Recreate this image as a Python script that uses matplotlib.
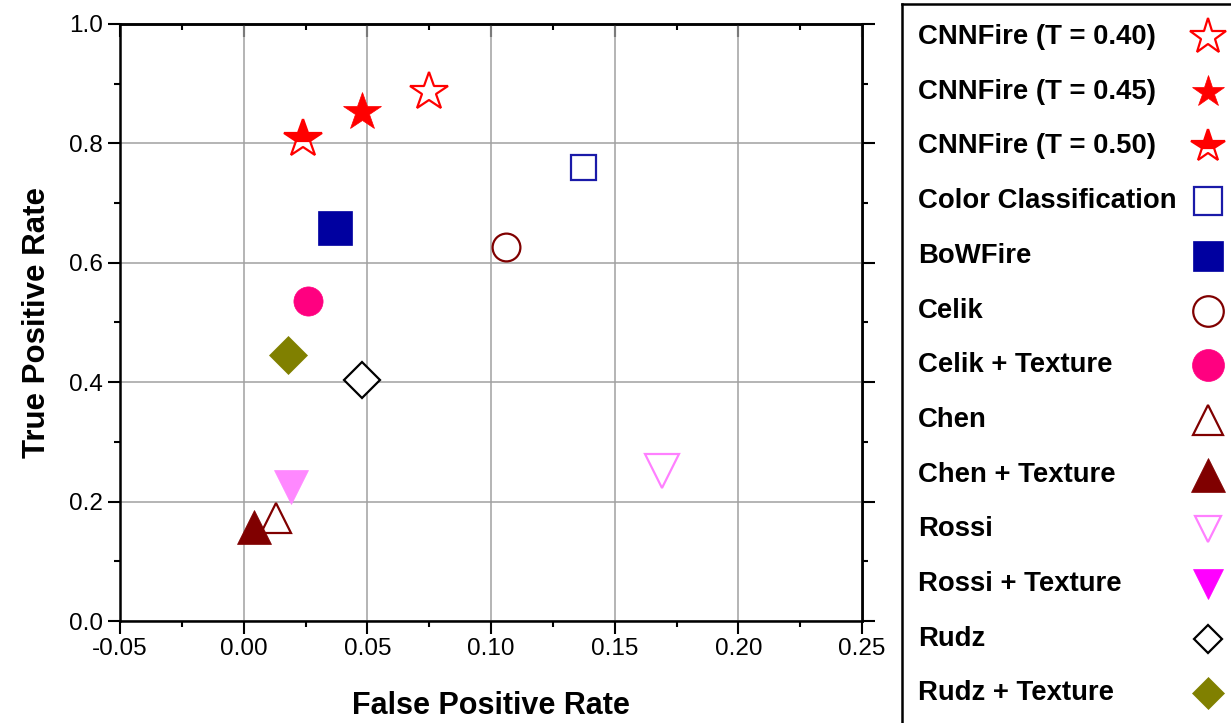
import numpy as np
import matplotlib.pyplot as plt
from matplotlib.ticker import MultipleLocator

plt.rcParams['font.family'] = ['Liberation Sans', 'DejaVu Sans']

# data
methods = ['CNNFire (T = 0.40)', 'CNNFire (T = 0.45)', 'CNNFire (T = 0.50)',
           'Color Classification', 'BoWFire', 'Celik', 'Celik + Texture',
           'Chen', 'Chen + Texture', 'Rossi', 'Rossi + Texture',
           'Rudz', 'Rudz + Texture']
fpr = [0.075, 0.048, 0.024, 0.137, 0.037, 0.106, 0.026,
       0.013, 0.004, 0.169, 0.019, 0.048, 0.018]
tpr = [0.886, 0.852, 0.807, 0.760, 0.658, 0.627, 0.536,
       0.172, 0.157, 0.251, 0.224, 0.404, 0.445]

# marker styles: (marker, color, fillstyle, size in plot, size in legend)
styles = [
    ('*', '#ff0000', 'none', 29, 27),
    ('*', '#ff0000', 'full', 29, 24),
    ('*', '#ff0000', 'top', 29, 25),
    ('s', '#1a1aa8', 'none', 18, 20),
    ('s', '#0000a0', 'full', 25, 21.5),
    ('o', '#800000', 'none', 20, 22),
    ('o', '#ff0080', 'full', 21, 23),
    ('^', '#800000', 'none', 21, 22),
    ('^', '#800000', 'full', 25, 24),
    ('v', '#ff80ff', 'none', 24, 19),
    ('v', '#ff88ff', 'full', 25, 22),
    ('D', '#000000', 'none', 18, 14.5),
    ('D', '#808000', 'full', 19, 16.5),
]
legend_colors = {10: '#ff00ff'}

W, H = 1231, 723
fig = plt.figure(figsize=(W / 100, H / 100), dpi=100)
ax = fig.add_axes([120 / W, 1 - 621 / H, (862 - 120) / W, (621 - 24) / H])


def draw(axis, x, y, st, ms, color):
    m, c, fs, _, _ = st
    if fs == 'none':
        axis.plot(x, y, marker=m, ms=ms, mfc='white', mec=color, mew=1.6,
                  ls='none', zorder=5)
    elif fs == 'top':
        axis.plot(x, y, marker=m, ms=ms, fillstyle='top', mfc=color,
                  mfcalt='white', mec=color, mew=1.6, ls='none', zorder=5)
    else:
        axis.plot(x, y, marker=m, ms=ms, mfc=color, mec=color, mew=0.5,
                  ls='none', zorder=5)


for i, st in enumerate(styles):
    draw(ax, fpr[i], tpr[i], st, st[3], st[1])

ax.set_xlim(-0.05, 0.25)
ax.set_ylim(0, 1.0)
ax.xaxis.set_major_locator(MultipleLocator(0.05))
ax.xaxis.set_minor_locator(MultipleLocator(0.025))
ax.yaxis.set_major_locator(MultipleLocator(0.2))
ax.yaxis.set_minor_locator(MultipleLocator(0.1))
ax.xaxis.set_major_formatter(plt.FormatStrFormatter('%.2f'))
ax.yaxis.set_major_formatter(plt.FormatStrFormatter('%.1f'))
ax.grid(True, which='major', color='#a0a0a0', lw=1.1)
ax.tick_params(which='both', direction='out', width=1.5, labelsize=17.5)
ax.tick_params(which='major', length=9)
ax.tick_params(which='minor', length=4.5)
for s in ax.spines.values():
    s.set_linewidth(1.8)

top = ax.secondary_xaxis('top')
top.xaxis.set_major_locator(MultipleLocator(0.05))
top.xaxis.set_minor_locator(MultipleLocator(0.025))
top.tick_params(which='both', direction='in', width=1.5, labeltop=False)
top.tick_params(which='major', length=9)
top.tick_params(which='minor', length=4.5)
top.spines['top'].set_linewidth(1.8)

right = ax.secondary_yaxis('right')
right.yaxis.set_major_locator(MultipleLocator(0.2))
right.yaxis.set_minor_locator(MultipleLocator(0.1))
right.tick_params(which='both', direction='out', width=1.5, labelright=False)
right.tick_params(which='major', length=9)
right.tick_params(which='minor', length=4.5)
right.spines['right'].set_linewidth(1.8)

ax.set_xlabel('False Positive Rate', fontsize=22, fontweight='bold', labelpad=22)
ax.set_ylabel('True Positive Rate', fontsize=22.5, fontweight='bold', labelpad=12)

# legend drawn in its own box at the right
lax = fig.add_axes([902 / W, -10 / H, (1245 - 902) / W, (733 - 4) / H])
lax.set_xlim(902, 1245)
lax.set_ylim(733, 4)
lax.set_xticks([])
lax.set_yticks([])
for s in lax.spines.values():
    s.set_linewidth(1.8)
for i, st in enumerate(styles):
    yy = 37 + i * 54.7
    lax.text(918, yy, methods[i], fontsize=19.8, fontweight='bold',
             va='center', ha='left')
    draw(lax, 1208, yy, st, st[4], legend_colors.get(i, st[1]))

fig.savefig('out.png', dpi=100)
